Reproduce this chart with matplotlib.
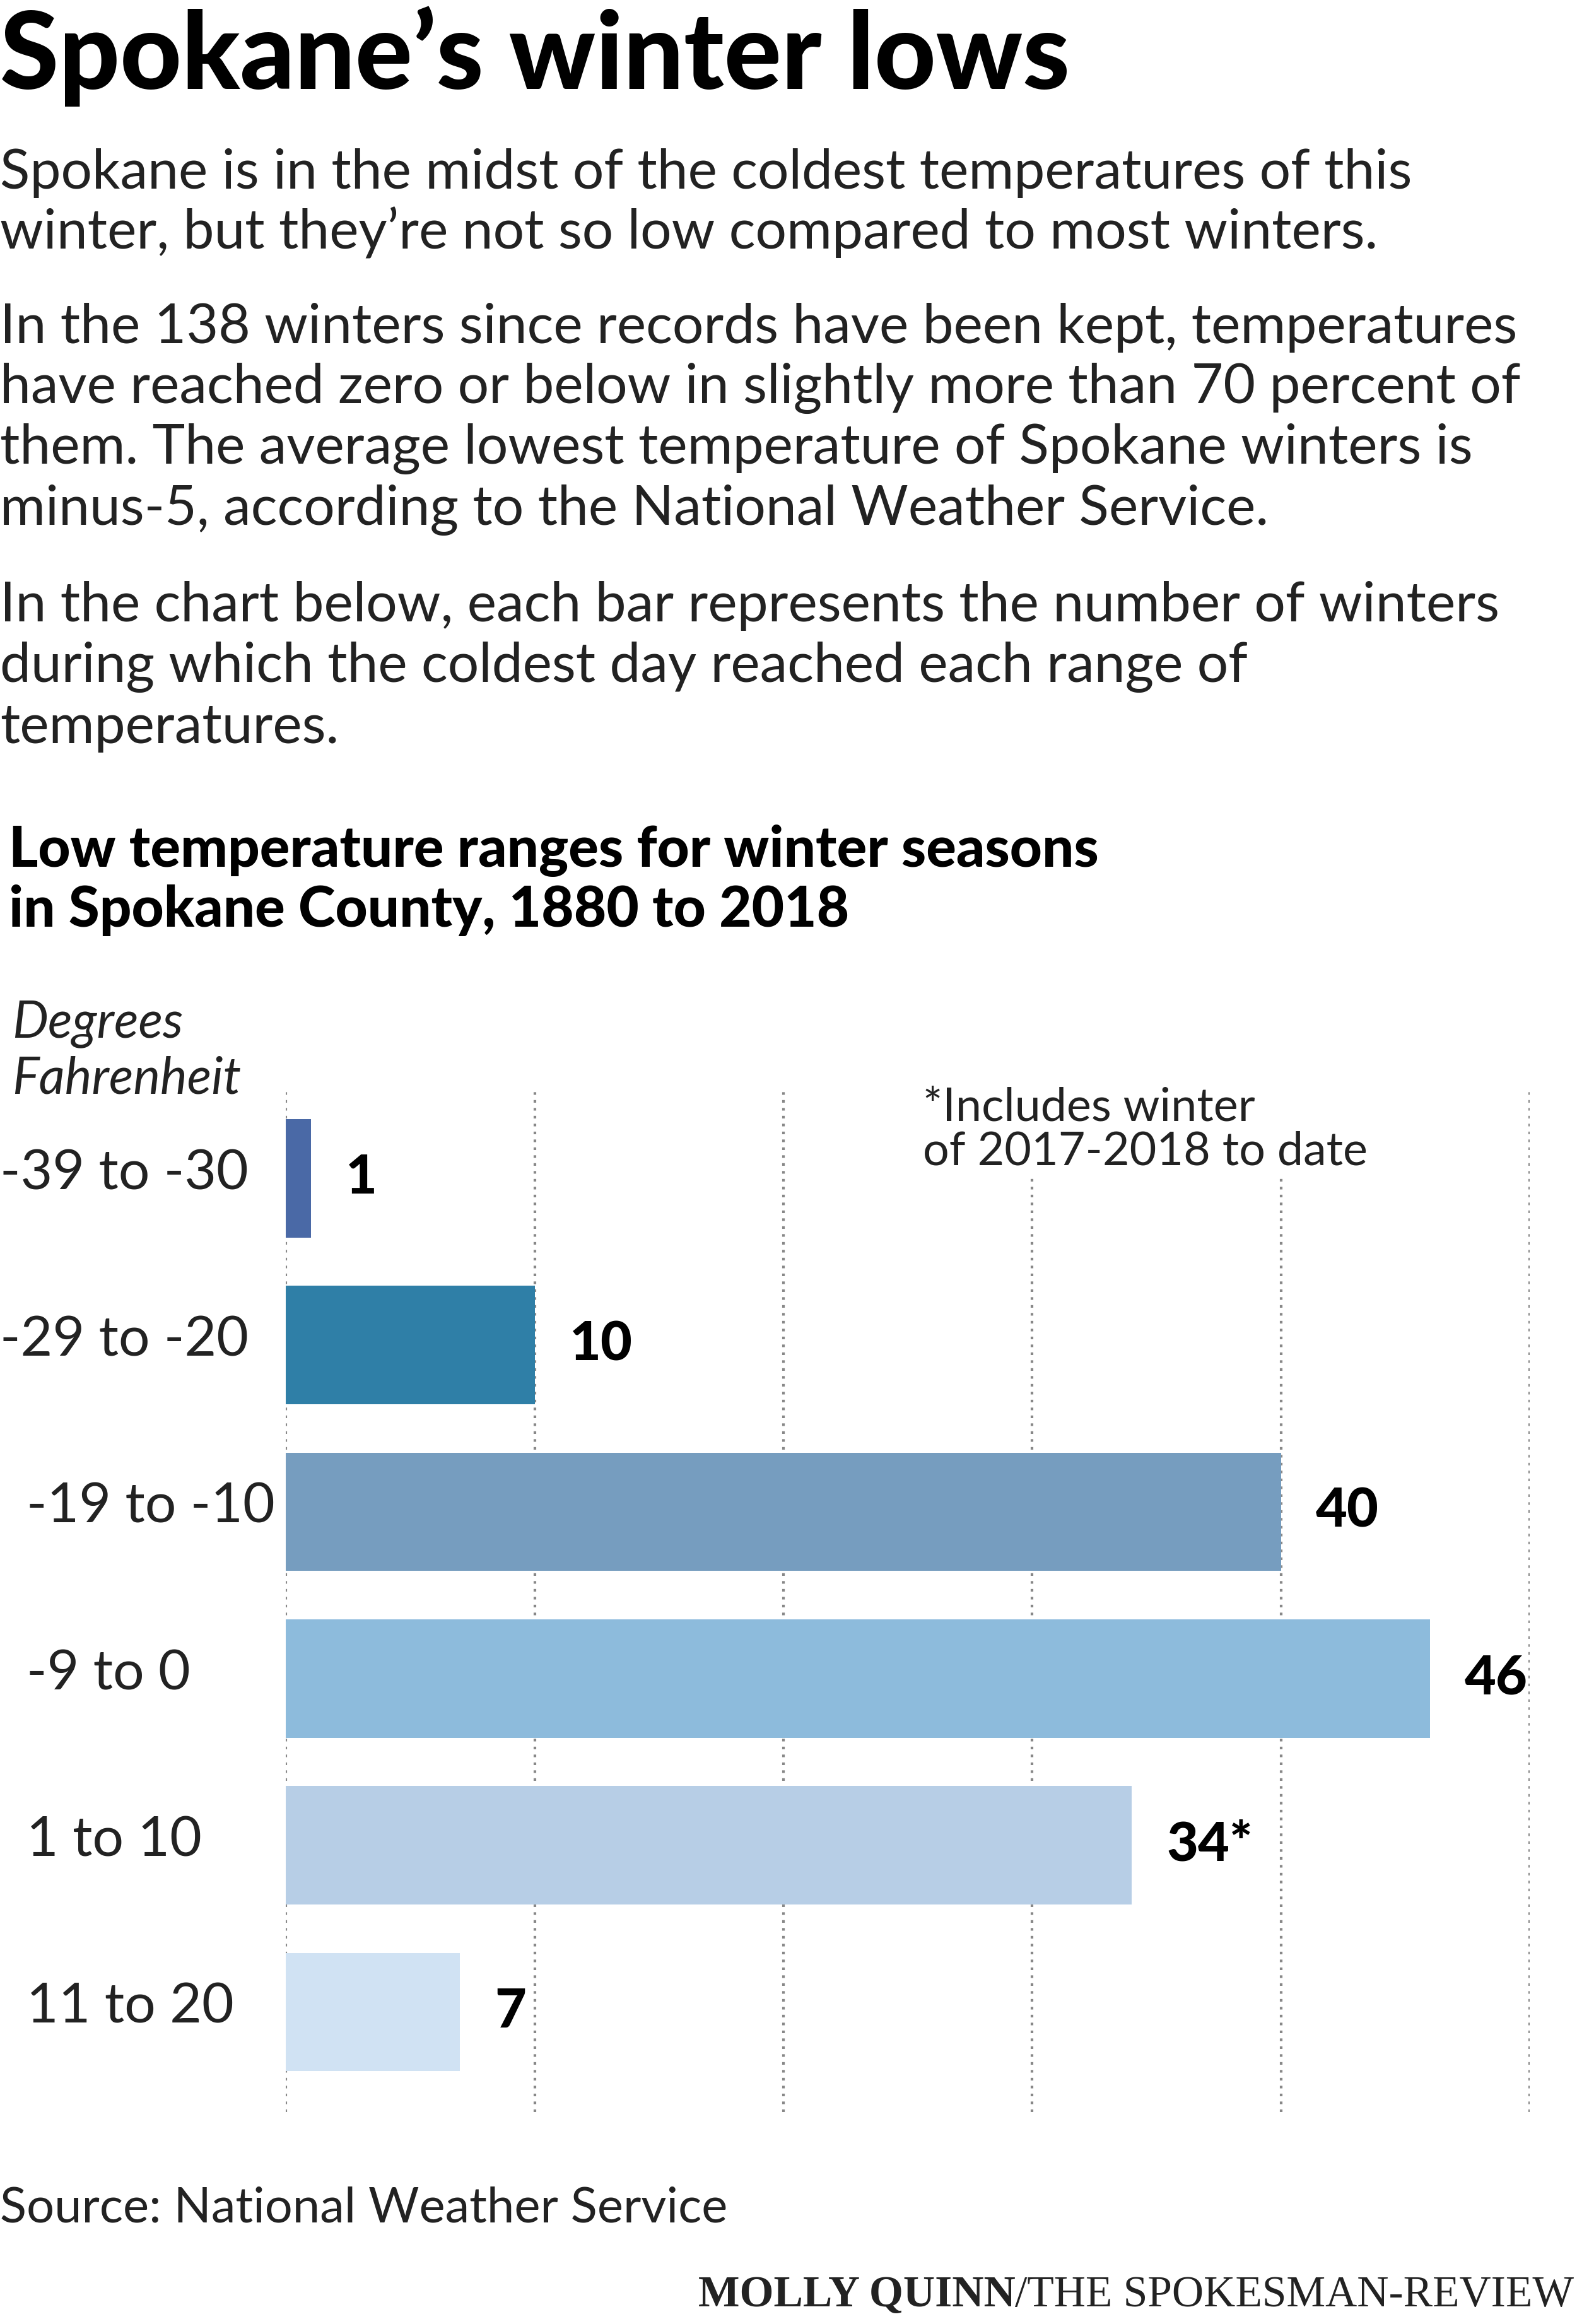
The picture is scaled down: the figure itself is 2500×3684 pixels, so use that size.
import matplotlib.pyplot as plt

plt.rcParams['font.family'] = ['Lato', 'DejaVu Sans']

categories = ['-39 to -30', '-29 to -20', '-19 to -10', '-9 to 0', '1 to 10', '11 to 20']
winters = [1, 10, 40, 46, 34, 7]
value_labels = ['1', '10', '40', '46', '34*', '7']
colors = ['#4a69a6', '#2f7fa7', '#769dbf', '#8dbbdc', '#b7cee6', '#d0e2f3']

W, H = 1064, 1568
fig = plt.figure(figsize=(25, 36.84), dpi=100)

def ft(x, y, s, **kw):
    return fig.text(x / W, 1 - y / H, s, **kw)

ft(0, 38, 'Spokane’s winter lows', fontsize=122, fontweight='black', va='center')
body = [
    (117, 'Spokane is in the midst of the coldest temperatures of this'),
    (157, 'winter, but they’re not so low compared to most winters.'),
    (221, 'In the 138 winters since records have been kept, temperatures'),
    (262, 'have reached zero or below in slightly more than 70 percent of'),
    (303, 'them. The average lowest temperature of Spokane winters is'),
    (344, 'minus-5, according to the National Weather Service.'),
    (409, 'In the chart below, each bar represents the number of winters'),
    (450, 'during which the coldest day reached each range of'),
    (491, 'temperatures.'),
]
for y, s in body:
    ft(0, y, s, fontsize=63, va='center', color='#222222')

ft(6, 574, 'Low temperature ranges for winter seasons', fontsize=64, fontweight='black', va='center')
ft(6, 614, 'in Spokane County, 1880 to 2018', fontsize=64, fontweight='black', va='center')

ft(8, 691, 'Degrees', fontsize=58, style='italic', va='center', color='#222222')
ft(8, 728, 'Fahrenheit', fontsize=58, style='italic', va='center', color='#222222')

x0, x1 = 193, 1032
y_top, y_bot = 735, 1425
ax = fig.add_axes([x0 / W, 1 - y_bot / H, (x1 - x0) / W, (y_bot - y_top) / H])
ypos = list(range(len(categories)))
ax.barh(ypos, winters, height=0.71, color=colors, zorder=2)
ax.set_xlim(0, 50)
ax.set_ylim(5.6, -0.533)
for xv in range(0, 51, 10):
    ax.axvline(xv, color='#888888', linestyle=(0, (1, 2)), linewidth=3, zorder=1)
for y, v, lab in zip(ypos, winters, value_labels):
    ax.text(v + 1.4, y, lab, fontsize=62, fontweight='black', va='center', ha='left', zorder=3)
for s in ax.spines.values():
    s.set_visible(False)
ax.set_xticks([])
ax.set_yticks([])

label_x = [0, 0, 18, 18, 18, 18]
for y, (lx, cat) in enumerate(zip(label_x, categories)):
    ft(lx, 792 + 112.5 * y, cat, fontsize=63, va='center', color='#222222')

ax.text(25.6, -0.55, '*Includes winter\nof 2017-2018 to date', fontsize=53, va='top', ha='left',
        color='#222222', linespacing=1.05, zorder=3,
        bbox=dict(facecolor='white', edgecolor='none', pad=4))

ft(0, 1490, 'Source: National Weather Service', fontsize=56, va='center', color='#222222')

# credit line: bold name + regular outlet
rest = ft(1062, 1549, '/THE SPOKESMAN-REVIEW', fontsize=50, family='Liberation Serif',
          ha='right', va='center', color='#222222')
fig.canvas.draw()
bb = rest.get_window_extent().transformed(fig.transFigure.inverted())
fig.text(bb.x0, 1 - 1549 / H, 'MOLLY QUINN', fontsize=50, family='Liberation Serif',
         fontweight='bold', ha='right', va='center', color='#222222')

fig.savefig('out.png', dpi=100, facecolor='white')
